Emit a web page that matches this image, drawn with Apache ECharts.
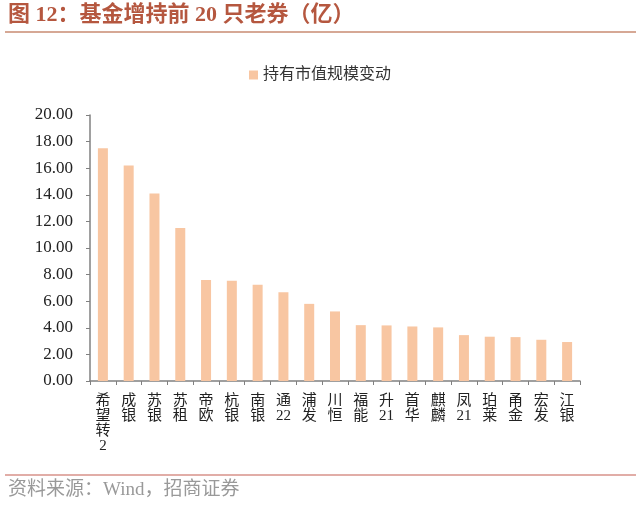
<!DOCTYPE html>
<html>
<head>
<meta charset="utf-8">
<script src="https://cdn.jsdelivr.net/npm/echarts@6/dist/echarts.min.js"></script>
<style>
html,body{margin:0;padding:0;background:#fff;}
#chart{width:640px;height:508px;}
</style>
</head>
<body>
<div id="chart"></div>
<script>
const titleText = '图 12：基金增持前 20 只老券（亿）';
const sourceText = '资料来源：Wind，招商证券';
const seriesName = '持有市值规模变动';
const categories = ['希望转2','成银','苏银','苏租','帝欧','杭银','南银','通22','浦发','川恒','福能','升21','首华','麒麟','凤21','珀莱','甬金','宏发','江银'];
const values = [17.5, 16.2, 14.1, 11.5, 7.6, 7.53, 7.23, 6.68, 5.8, 5.23, 4.2, 4.18, 4.1, 4.03, 3.45, 3.33, 3.3, 3.1, 2.93];
const yTicks = { min: 0, max: 20, interval: 2 };

const chart = echarts.init(document.getElementById('chart'), null, {renderer: 'canvas'});
const serif = '"Liberation Serif","Times New Roman","Noto Sans CJK SC",serif';
function verticalize(v) {
  const parts = v.match(/[0-9]+|[^0-9]/g) || [];
  return parts.join('\n');
}
chart.setOption({
  backgroundColor: '#ffffff',
  animation: false,
  legend: {
    top: 62,
    left: 'center',
    itemWidth: 9,
    itemHeight: 9,
    itemGap: 10,
    icon: 'rect',
    textStyle: {fontSize: 16, color: '#333333', fontFamily: serif},
    data: [seriesName]
  },
  grid: {left: 90, right: 60, top: 115, bottom: 127, containLabel: false},
  xAxis: {
    type: 'category',
    data: categories,
    axisLine: {lineStyle: {color: '#808080', width: 1.5}},
    axisTick: {show: true, length: 4, lineStyle: {color: '#808080'}},
    axisLabel: {
      interval: 0,
      margin: 13,
      fontSize: 15,
      lineHeight: 15,
      color: '#222222',
      fontFamily: serif,
      formatter: verticalize
    }
  },
  yAxis: {
    type: 'value',
    min: yTicks.min,
    max: yTicks.max,
    interval: yTicks.interval,
    axisLine: {show: true, lineStyle: {color: '#808080', width: 1.5}},
    axisTick: {show: true, length: 4, lineStyle: {color: '#808080'}},
    splitLine: {show: false},
    axisLabel: {
      margin: 17,
      fontSize: 17,
      color: '#222222',
      fontFamily: serif,
      formatter: function (v) { return v.toFixed(2); }
    }
  },
  series: [{
    name: seriesName,
    type: 'bar',
    data: values,
    barWidth: 10,
    itemStyle: {color: '#F8C6A2'}
  }],
  graphic: [
    {type: 'text', left: 8, top: 4, style: {text: titleText, fontSize: 22, fontWeight: 'bold', fill: '#B5573F', fontFamily: serif}},
    {type: 'line', shape: {x1: 5, y1: 32, x2: 636, y2: 32}, style: {stroke: '#C98B72', lineWidth: 1.5}},
    {type: 'line', shape: {x1: 5, y1: 475, x2: 636, y2: 475}, style: {stroke: '#D7928A', lineWidth: 1.5}},
    {type: 'text', left: 8, top: 481, style: {text: sourceText, fontSize: 19, fill: '#999999', fontFamily: serif}}
  ]
});
</script>
</body>
</html>
